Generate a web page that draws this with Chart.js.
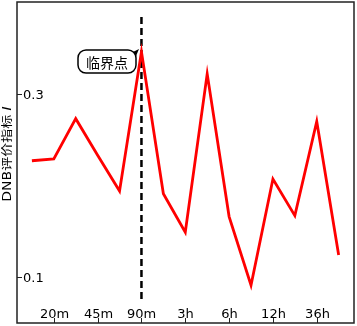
<!DOCTYPE html>
<html>
<head>
<meta charset="utf-8">
<script src="https://cdn.jsdelivr.net/npm/chart.js@4"></script>
<style>
  html, body { margin: 0; padding: 0; background: #fff; }
  #wrap { width: 357px; height: 326px; }
</style>
</head>
<body>
<div id="wrap"><canvas id="chart" width="357" height="326"></canvas></div>
<script>
// data
const pointIndex = [0, 1, 2, 3, 4, 5, 6, 7, 8, 9, 10, 11, 12, 13, 14];
const dnbValues = [0.227, 0.229, 0.273, 0.233, 0.194, 0.346, 0.191, 0.149, 0.322, 0.166, 0.091, 0.207, 0.167, 0.270, 0.124];
const xTickPos = [1, 3, 5, 7, 9, 11, 13];
const xTickLabels = ["20m", "45m", "90m", "3h", "6h", "12h", "36h"];
const yTicks = [0.1, 0.3];
const criticalIndex = 5;
const criticalLabel = "临界点";
const yTitle = "DNB评价指标 ";
const yTitleVar = "I";

const FONT = '13px "DejaVu Sans", sans-serif';

// frame, inward ticks, labels, dashed line, callout
const decor = {
  id: "decor",
  beforeDatasetsDraw(chart) {
    const { ctx, scales: { x, y } } = chart;
    ctx.save();
    // dashed critical line
    const cx = x.getPixelForValue(criticalIndex);
    ctx.strokeStyle = "#000";
    ctx.lineWidth = 2.5;
    ctx.setLineDash([7, 4]);
    ctx.beginPath();
    ctx.moveTo(cx, y.getPixelForValue(0.384));
    ctx.lineTo(cx, y.getPixelForValue(0.074));
    ctx.stroke();
    ctx.restore();
  },
  afterDatasetsDraw(chart) {
    const { ctx, chartArea: a, scales: { x, y } } = chart;
    ctx.save();
    ctx.strokeStyle = "#222";
    ctx.lineWidth = 1.5;
    ctx.strokeRect(a.left, a.top, a.right - a.left, a.bottom - a.top);

    ctx.fillStyle = "#000";
    ctx.font = FONT;
    ctx.lineWidth = 1;
    // y ticks
    ctx.textAlign = "left";
    ctx.textBaseline = "middle";
    yTicks.forEach(v => {
      const py = Math.round(y.getPixelForValue(v)) + 0.5;
      ctx.beginPath();
      ctx.moveTo(a.left, py);
      ctx.lineTo(a.left + 5, py);
      ctx.stroke();
      ctx.fillText(v.toFixed(1), a.left + 6, py + 1);
    });
    // x ticks
    ctx.textAlign = "center";
    ctx.textBaseline = "bottom";
    xTickPos.forEach((p, i) => {
      const px = Math.round(x.getPixelForValue(p)) + 0.5;
      ctx.beginPath();
      ctx.moveTo(px, a.bottom);
      ctx.lineTo(px, a.bottom - 5);
      ctx.stroke();
      ctx.fillText(xTickLabels[i], px, a.bottom - 2);
    });

    // y title (slightly condensed across like the original)
    ctx.save();
    ctx.translate(8, 154);
    ctx.rotate(-Math.PI / 2);
    ctx.scale(1, 0.85);
    ctx.textBaseline = "middle";
    const f1 = '14px "DejaVu Sans", "Noto Sans CJK SC", sans-serif';
    const f2 = 'italic 14px "DejaVu Sans", sans-serif';
    ctx.font = f1;
    const w1 = ctx.measureText(yTitle).width;
    ctx.font = f2;
    const w2 = ctx.measureText(yTitleVar).width;
    ctx.textAlign = "left";
    ctx.font = f1;
    ctx.fillText(yTitle, -(w1 + w2) / 2, 0);
    ctx.font = f2;
    ctx.fillText(yTitleVar, -(w1 + w2) / 2 + w1, 0);
    ctx.restore();

    // callout box
    const bx = 78, by = 50, bw = 58, bh = 23, r = 8;
    ctx.lineWidth = 1.5;
    ctx.strokeStyle = "#000";
    ctx.fillStyle = "#fff";
    ctx.beginPath();
    ctx.roundRect(bx, by, bw, bh, r);
    ctx.fill();
    ctx.stroke();
    ctx.beginPath();
    ctx.moveTo(bx + bw - 3, by + 2);
    ctx.lineTo(bx + bw + 3, by - 1);
    ctx.lineTo(bx + bw, by + 6);
    ctx.closePath();
    ctx.fillStyle = "#000";
    ctx.fill();
    ctx.font = '14px "Noto Sans CJK SC", sans-serif';
    ctx.textAlign = "center";
    ctx.textBaseline = "middle";
    ctx.fillText(criticalLabel, bx + bw / 2, by + bh / 2 + 1);
    ctx.restore();
  }
};

new Chart(document.getElementById("chart"), {
  type: "line",
  data: {
    datasets: [{
      data: pointIndex.map((p, i) => ({ x: p, y: dnbValues[i] })),
      borderColor: "#ff0000",
      borderWidth: 2.8,
      pointRadius: 0,
      tension: 0,
      fill: false
    }]
  },
  options: {
    responsive: false,
    animation: false,
    layout: { padding: { left: 17, top: 2, right: 3, bottom: 3 } },
    plugins: { legend: { display: false }, tooltip: { enabled: false } },
    scales: {
      x: { type: "linear", min: -0.68, max: 14.7, display: false },
      y: { min: 0.0497, max: 0.4005, display: false }
    }
  },
  plugins: [decor]
});
</script>
</body>
</html>
